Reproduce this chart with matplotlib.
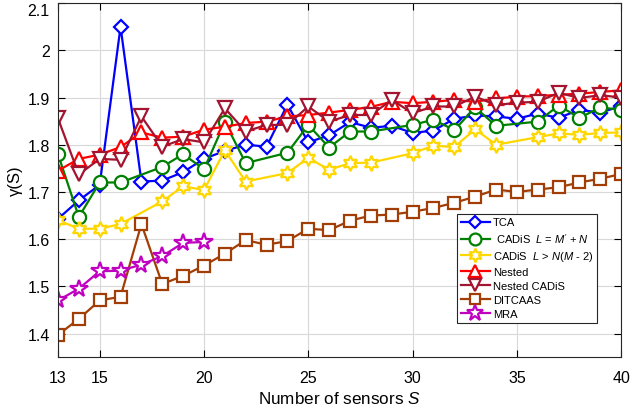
import matplotlib
matplotlib.use("Agg")
import matplotlib.pyplot as plt
import numpy as np

plt.rcParams['font.family'] = ['Liberation Sans', 'DejaVu Sans']
plt.rcParams['mathtext.fontset'] = 'custom'
plt.rcParams['mathtext.rm'] = 'Liberation Sans'
plt.rcParams['mathtext.it'] = 'Liberation Sans:italic'

# ---- data ----
S_all = list(range(13, 41))
S_cadis = [13, 14, 15, 16, 18, 19, 20, 21, 22, 24, 25, 26, 27, 28, 30, 31, 32, 33, 34, 36, 37, 38, 39, 40]
S_mra = list(range(13, 21))

tca = [1.643, 1.682, 1.715, 2.05, 1.722, 1.724, 1.742, 1.77, 1.787, 1.80, 1.796, 1.885, 1.805, 1.82,
       1.848, 1.836, 1.84, 1.825, 1.83, 1.855, 1.862, 1.86, 1.855, 1.866, 1.857, 1.874, 1.868, 1.882]
cadis1 = [1.78, 1.647, 1.72, 1.72, 1.753, 1.78, 1.748, 1.848, 1.761, 1.783, 1.842, 1.794, 1.828, 1.828,
          1.842, 1.853, 1.831, 1.879, 1.84, 1.849, 1.883, 1.857, 1.879, 1.874]
cadis2 = [1.64, 1.622, 1.622, 1.632, 1.68, 1.712, 1.704, 1.788, 1.722, 1.74, 1.772, 1.747, 1.761, 1.762,
          1.782, 1.798, 1.795, 1.833, 1.80, 1.816, 1.824, 1.821, 1.825, 1.826]
nested = [1.745, 1.77, 1.779, 1.795, 1.826, 1.815, 1.817, 1.832, 1.838, 1.846, 1.849, 1.86, 1.863, 1.868,
          1.874, 1.88, 1.891, 1.888, 1.891, 1.895, 1.891, 1.898, 1.902, 1.903, 1.906, 1.908, 1.912, 1.915]
nested_cadis = [1.856, 1.737, 1.77, 1.768, 1.86, 1.796, 1.812, 1.805, 1.877, 1.828, 1.842, 1.842, 1.881, 1.849,
                1.863, 1.863, 1.895, 1.867, 1.881, 1.881, 1.902, 1.884, 1.889, 1.891, 1.91, 1.899, 1.905, 1.90]
ditcaas = [1.397, 1.431, 1.47, 1.478, 1.632, 1.505, 1.522, 1.544, 1.569, 1.598, 1.588, 1.596, 1.622, 1.619,
           1.639, 1.65, 1.652, 1.658, 1.666, 1.677, 1.69, 1.705, 1.70, 1.705, 1.71, 1.72, 1.728, 1.738]
mra = [1.47, 1.495, 1.532, 1.533, 1.546, 1.564, 1.592, 1.594]

labels = ['TCA', r" CADiS  $L$ = $M'$ + $N$", r"CADiS  $L$ > $N$($M$ - 2)", 'Nested',
          'Nested CADiS', 'DITCAAS', 'MRA']
xticks = [13, 15, 20, 25, 30, 35, 40]
yticks = [1.4, 1.5, 1.6, 1.7, 1.8, 1.9, 2.0, 2.1]
ytick_labels = ['1.4', '1.5', '1.6', '1.7', '1.8', '1.9', '2', '2.1']

fig = plt.figure(figsize=(6.3, 4.14), dpi=100)
ax = fig.add_axes([0.092, 0.135, 0.894, 0.855])

lw = 1.6
mew = 1.6
series = [
    (S_all, tca, 'blue', 'D', 7),
    (S_cadis, cadis1, '#008000', 'o', 9.5),
    (S_cadis, cadis2, '#FFD700', (6, 1, 0), 11),
    (S_all, nested, 'red', '^', 10),
    (S_all, nested_cadis, '#A2142F', 'v', 10),
    (S_all, ditcaas, '#A33D06', 's', 8.5),
    (S_mra, mra, '#C000C0', '*', 13),
]
for (xs, ys, c, m, ms), lab in zip(series, labels):
    ax.plot(xs, ys, color=c, lw=lw, marker=m, ms=ms, mfc='white', mec=c, mew=mew, label=lab)

ax.set_xlim(13, 40)
ax.set_ylim(1.35, 2.1)
ax.set_xticks(xticks)
ax.set_yticks(yticks)
ax.set_yticklabels(ytick_labels)
ax.grid(True, color='#D8D8D8', lw=0.8)
ax.set_axisbelow(True)
ax.tick_params(direction='in', top=True, right=True, length=5, labelsize=11.5, width=0.8)
ax.tick_params(axis='x', pad=9)
ax.tick_params(axis='y', pad=6)
for sp in ax.spines.values():
    sp.set_linewidth(0.8)
    sp.set_color('#262626')
# keep the top tick label inside the figure
ax.get_yticklabels()[-1].set_va('top')

ax.set_xlabel(r'Number of sensors $S$', fontsize=12.3, labelpad=4)
ax.set_ylabel('γ(S)', fontsize=12, labelpad=3)

leg = ax.legend(loc='upper left', bbox_to_anchor=(0.709, 0.404), borderaxespad=0,
                fontsize=8, fancybox=False, edgecolor='#262626', framealpha=1,
                handlelength=2.6, handletextpad=0.3, labelspacing=0.36, borderpad=0.3,
                markerscale=0.9)
leg.get_frame().set_linewidth(0.8)

fig.savefig('out.png', dpi=100)
